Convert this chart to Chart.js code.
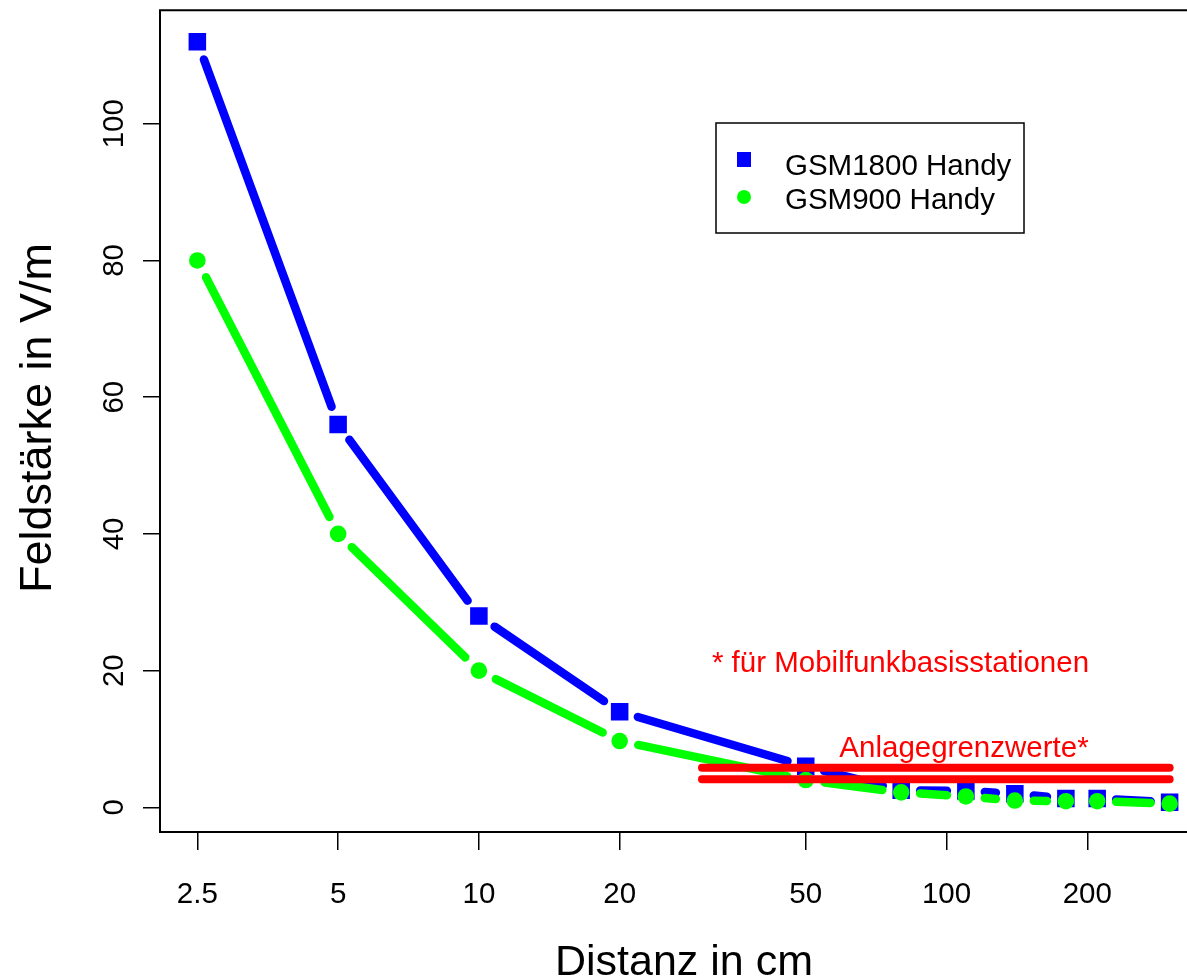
<!DOCTYPE html>
<html>
<head>
<meta charset="utf-8">
<script src="https://cdn.jsdelivr.net/npm/chart.js@4.4.1/dist/chart.umd.min.js"></script>
<style>
  html, body { margin: 0; padding: 0; background: #fff; }
  canvas { display: block; }
</style>
</head>
<body>
<canvas id="chart" width="1187" height="979"></canvas>
<script>
// --- DATA --- //
const distances = [2.5, 5, 10, 20, 50, 80, 110, 140, 180, 210, 300];
const gsm1800 = [112, 56, 28, 14, 6, 2.5, 2.4, 2.0, 1.3, 1.3, 0.75];
const gsm900 = [80, 40, 20, 9.7, 4, 2.2, 1.6, 1.0, 0.9, 0.9, 0.55];
const limitRange = [30, 300];
const limit1800 = 5.8;
const limit900 = 4.1;
const xTicks = [2.5, 5, 10, 20, 50, 100, 200];
const yTicks = [0, 20, 40, 60, 80, 100];

const FONT = '"Liberation Sans", Arial, sans-serif';
const GAP = 19;

function pts(xs, ys) { return xs.map((x, i) => ({x: x, y: ys[i]})); }

// lines with a gap round each point (like R type="b")
const extras = {
  id: 'extras',
  afterDatasetDraw(chart, args) {
    const ds = chart.data.datasets[args.index];
    if (!ds.gapLine) return;
    const p = args.meta.data;
    const ctx = chart.ctx;
    ctx.save();
    ctx.strokeStyle = ds.backgroundColor;
    ctx.lineWidth = 8.5;
    ctx.lineCap = 'round';
    for (let i = 0; i < p.length - 1; i++) {
      const dx = p[i+1].x - p[i].x, dy = p[i+1].y - p[i].y;
      const len = Math.hypot(dx, dy);
      if (len < 2 * GAP) continue;
      const ux = dx / len, uy = dy / len;
      ctx.beginPath();
      ctx.moveTo(p[i].x + ux * GAP, p[i].y + uy * GAP);
      ctx.lineTo(p[i+1].x - ux * GAP, p[i+1].y - uy * GAP);
      ctx.stroke();
    }
    ctx.restore();
  },
  afterDraw(chart) {
    const ctx = chart.ctx, a = chart.chartArea;
    const sx = chart.scales.x, sy = chart.scales.y;
    ctx.save();
    // frame (right edge falls off the picture)
    ctx.strokeStyle = '#000'; ctx.lineWidth = 2;
    ctx.beginPath();
    ctx.moveTo(a.right + 2, a.top); ctx.lineTo(a.left, a.top);
    ctx.lineTo(a.left, a.bottom); ctx.lineTo(a.right + 2, a.bottom);
    ctx.stroke();

    ctx.fillStyle = '#000';
    ctx.font = '29.5px ' + FONT;
    // x tick labels
    ctx.textAlign = 'center'; ctx.textBaseline = 'alphabetic';
    xTicks.forEach(v => ctx.fillText(String(v), sx.getPixelForValue(v), 903));
    // y tick labels, rotated
    yTicks.forEach(v => {
      ctx.save();
      ctx.translate(123, sy.getPixelForValue(v));
      ctx.rotate(-Math.PI / 2);
      ctx.fillText(String(v), 0, 0);
      ctx.restore();
    });

    // axis titles
    ctx.font = '43px ' + FONT;
    ctx.fillText('Distanz in cm', 684, 975);
    ctx.font = '45px ' + FONT;
    ctx.save();
    ctx.translate(51, 418);
    ctx.rotate(-Math.PI / 2);
    ctx.fillText('Feldstärke in V/m', 0, 0);
    ctx.restore();

    // notes
    ctx.fillStyle = '#ff0000';
    ctx.font = '29.5px ' + FONT;
    ctx.textAlign = 'left';
    ctx.fillText('* für Mobilfunkbasisstationen', sx.getPixelForValue(31.5), sy.getPixelForValue(19.75));
    ctx.fillText('Anlagegrenzwerte*', sx.getPixelForValue(59), sy.getPixelForValue(7.3));

    // legend
    ctx.strokeStyle = '#000'; ctx.lineWidth = 1.5;
    ctx.strokeRect(716, 123, 308, 110);
    const d = chart.data.datasets;
    ctx.fillStyle = d[0].backgroundColor;
    ctx.fillRect(737, 152, 14, 15);
    ctx.fillStyle = d[1].backgroundColor;
    ctx.beginPath(); ctx.arc(744, 197, 7, 0, Math.PI * 2); ctx.fill();
    ctx.fillStyle = '#000';
    ctx.fillText(d[0].label, 785, 175);
    ctx.fillText(d[1].label, 785, 209);
    ctx.restore();
  }
};

new Chart(document.getElementById('chart'), {
  type: 'line',
  data: {
    datasets: [
      {label: 'GSM1800 Handy', data: pts(distances, gsm1800), showLine: false, gapLine: true,
       backgroundColor: '#0000ff', borderColor: '#0000ff', pointStyle: 'rect', pointRadius: 12.4,
       pointBorderWidth: 0, order: 2},
      {label: 'GSM900 Handy', data: pts(distances, gsm900), showLine: false, gapLine: true,
       backgroundColor: '#00ff00', borderColor: '#00ff00', pointStyle: 'circle', pointRadius: 8.3,
       pointBorderWidth: 0, order: 1},
      {label: 'Grenzwert 1800', data: pts(limitRange, [limit1800, limit1800]), borderColor: '#ff0000',
       borderWidth: 8, borderCapStyle: 'round', pointRadius: 0, order: 0},
      {label: 'Grenzwert 900', data: pts(limitRange, [limit900, limit900]), borderColor: '#ff0000',
       borderWidth: 8, borderCapStyle: 'round', pointRadius: 0, order: 0}
    ]
  },
  options: {
    responsive: false,
    animation: false,
    devicePixelRatio: 1,
    layout: {autoPadding: false, padding: {top: 10, left: 0, right: 0, bottom: 0}},
    plugins: {legend: {display: false}, tooltip: {enabled: false}},
    scales: {
      x: {
        type: 'logarithmic', min: 2.08, max: 326.8,
        afterBuildTicks: s => { s.ticks = xTicks.map(v => ({value: v})); },
        afterFit: s => { s.height = 147; },
        grid: {drawOnChartArea: false, drawTicks: true, tickLength: 18, color: '#000', lineWidth: 1.5},
        border: {display: false},
        ticks: {color: 'rgba(0,0,0,0)', autoSkip: false, maxRotation: 0}
      },
      y: {
        type: 'linear', min: -3.6, max: 116.6,
        afterBuildTicks: s => { s.ticks = yTicks.map(v => ({value: v})); },
        afterFit: s => { s.width = 160; },
        grid: {drawOnChartArea: false, drawTicks: true, tickLength: 17, color: '#000', lineWidth: 1.5},
        border: {display: false},
        ticks: {color: 'rgba(0,0,0,0)'}
      }
    }
  },
  plugins: [extras]
});
</script>
</body>
</html>
